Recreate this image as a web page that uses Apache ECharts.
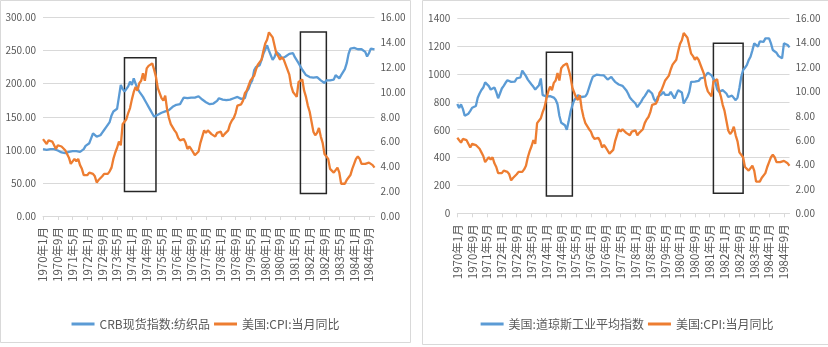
<!DOCTYPE html>
<html>
<head>
<meta charset="utf-8">
<script src="https://cdn.jsdelivr.net/npm/echarts@6/dist/echarts.min.js"></script>
<style>
  html, body { margin: 0; padding: 0; background: #ffffff; overflow: hidden; }
  #wrap { position: relative; width: 828px; height: 347px; }
  #left { position: absolute; left: 0; top: 0; width: 411px; height: 343px; }
  #right { position: absolute; left: 422px; top: 0; width: 410px; height: 345px; }
</style>
</head>
<body>
<div id="wrap">
  <div id="left"></div>
  <div id="right"></div>
</div>
<script>
// Monthly categories, 1970年1月 … 1984年12月
const months = [];
for (let y = 1970; y <= 1984; y++) {
  for (let m = 1; m <= 12; m++) months.push(y + '年' + m + '月');
}

// CRB spot index: textiles
const crbTextiles = [
  101, 101, 100, 101, 101, 100, 101, 100, 99, 97, 96, 95,
  95, 96, 97, 97, 98, 99, 98, 97, 97, 99, 101, 106,
  109, 110, 110, 125, 122, 120, 120, 122, 126, 130, 134, 137,
  142, 152, 158, 159, 162, 180, 198, 192, 188, 186, 196, 203,
  198, 208, 200, 193, 188, 186, 180, 175, 170, 165, 160, 155,
  150, 151, 153, 155, 156, 157, 158, 158, 160, 163, 165, 167,
  168, 169, 169, 172, 179, 180, 178, 178, 179, 178, 179, 180,
  181, 180, 176, 174, 172, 171, 169, 168, 170, 171, 174, 178,
  177, 176, 175, 175, 174, 176, 177, 178, 181, 180, 179, 177,
  178, 178, 188, 192, 200, 205, 220, 225, 226, 228, 236, 245,
  246, 258, 250, 243, 236, 240, 248, 245, 243, 238, 240, 241,
  243, 245, 248, 246, 240, 238, 231, 228, 221, 217, 213, 212,
  210, 211, 209, 208, 210, 209, 205, 203, 201, 205, 206, 205,
  205, 206, 213, 210, 208, 213, 216, 222, 231, 245, 253, 254,
  254, 252, 252, 253, 252, 250, 248, 241, 246, 253, 252, 252
];

// Dow Jones Industrial Average
const dowJones = [
  785, 756, 782, 750, 700, 692, 715, 735, 758, 762, 770, 830,
  860, 885, 903, 940, 930, 913, 888, 884, 903, 870, 826, 860,
  896, 915, 937, 955, 961, 944, 930, 945, 968, 956, 975, 1025,
  1033, 985, 960, 949, 925, 908, 889, 900, 920, 968, 848, 840,
  840, 850, 841, 838, 831, 815, 783, 700, 650, 660, 632, 600,
  660, 728, 775, 812, 830, 848, 850, 835, 824, 840, 860, 870,
  944, 980, 992, 995, 990, 992, 995, 990, 999, 960, 968, 980,
  960, 944, 935, 925, 920, 915, 900, 884, 860, 831, 815, 805,
  788, 762, 759, 800, 824, 841, 850, 884, 870, 860, 820, 800,
  836, 842, 855, 872, 850, 836, 850, 872, 875, 824, 830, 884,
  880, 868, 788, 800, 835, 872, 944, 940, 945, 956, 950, 968,
  965, 975, 992, 1009, 995, 990, 980, 944, 890, 872, 870, 884,
  875, 860, 835, 824, 845, 835, 812, 831, 900, 980, 1028, 1045,
  1064, 1100, 1124, 1170, 1220, 1210, 1196, 1235, 1244, 1230, 1256, 1260,
  1256, 1220, 1172, 1160, 1153, 1130, 1124, 1112, 1220, 1210, 1208, 1191
];

// US CPI, year-on-year (%)
const usCpi = [
  6.2, 6.1, 5.8, 6.1, 6.1, 6.0, 5.9, 5.4, 5.7, 5.7, 5.6, 5.6,
  5.3, 5.0, 4.7, 4.2, 4.4, 4.6, 4.4, 4.6, 4.1, 3.8, 3.3, 3.3,
  3.3, 3.5, 3.4, 3.4, 3.2, 2.7, 2.9, 2.9, 3.2, 3.4, 3.5, 3.4,
  3.6, 3.9, 4.6, 5.1, 5.5, 6.0, 5.7, 7.4, 7.4, 7.8, 8.3, 8.7,
  9.4, 10.0, 10.4, 10.1, 10.7, 10.9, 11.5, 10.9, 11.9, 12.1, 12.2, 12.3,
  11.8, 11.2, 10.3, 10.2, 9.5, 9.3, 9.7, 8.6, 7.9, 7.4, 7.4, 6.9,
  6.7, 6.3, 6.1, 6.0, 6.2, 5.9, 5.4, 5.6, 5.4, 5.4, 4.9, 4.9,
  5.2, 5.9, 6.4, 6.9, 6.7, 6.9, 6.8, 6.6, 6.6, 6.4, 6.7, 6.7,
  6.8, 6.4, 6.6, 6.5, 6.9, 7.4, 7.7, 7.9, 8.3, 8.9, 8.9, 9.0,
  9.3, 9.9, 10.1, 10.5, 10.9, 10.9, 11.3, 11.8, 12.2, 12.1, 12.6, 13.3,
  13.9, 14.2, 14.8, 14.7, 14.4, 14.4, 13.1, 12.9, 12.6, 12.8, 12.6, 12.5,
  11.8, 11.4, 10.5, 10.0, 9.8, 9.6, 10.8, 10.8, 11.0, 10.1, 9.6, 8.9,
  8.4, 7.6, 6.8, 6.5, 6.7, 7.1, 6.4, 5.9, 5.0, 5.1, 4.6, 3.8,
  3.7, 3.5, 3.6, 3.9, 3.5, 2.6, 2.5, 2.6, 2.9, 2.9, 3.3, 3.8,
  4.2, 4.6, 4.8, 4.6, 4.2, 4.2, 4.2, 4.3, 4.3, 4.3, 4.1, 3.9
];

// Highlighted periods (category range and left-axis value range)
const crbBoxes = [
  { from: '1973年9月', to: '1975年2月', high: 239, low: 37 },
  { from: '1981年8月', to: '1982年10月', high: 278, low: 34 }
];
const dowBoxes = [
  { from: '1974年1月', to: '1975年3月', high: 1156, low: 124 },
  { from: '1981年7月', to: '1982年11月', high: 1220, low: 144 }
];

const NAME_CPI = '美国:CPI:当月同比';
const FONT = '"Noto Sans CJK SC", "Noto Sans", sans-serif';
const TXT = '#595959';
const GRID = '#d9d9d9';

function buildOption(p) {
  return {
    animation: false,
    backgroundColor: '#ffffff',
    textStyle: { fontFamily: FONT },
    graphic: [{
      type: 'rect', silent: true, z: -1,
      shape: { x: 0.5, y: 0.5, width: p.w - 1, height: p.h - 1 },
      style: { fill: 'none', stroke: '#d9d9d9', lineWidth: 1 }
    }],
    grid: { left: p.left, right: p.right, top: p.top, height: p.height },
    legend: {
      data: [p.name, NAME_CPI],
      left: 'center', top: 313,
      icon: 'rect', itemWidth: 23, itemHeight: 3, itemGap: 4,
      textStyle: { color: TXT, fontSize: 12, fontFamily: FONT }
    },
    xAxis: {
      type: 'category', data: months, boundaryGap: false,
      axisLine: { lineStyle: { color: GRID, width: 1 } },
      axisTick: { show: true, interval: 7, length: 4, lineStyle: { color: GRID } },
      axisLabel: { interval: 7, rotate: 90, margin: 11, color: TXT, fontSize: 11.5, fontFamily: FONT },
      splitLine: { show: false }
    },
    yAxis: [{
      type: 'value', min: 0, max: p.max, interval: p.step,
      axisLine: { show: false }, axisTick: { show: false },
      axisLabel: { color: TXT, fontSize: 10, margin: 7, fontFamily: FONT, formatter: p.fmt },
      splitLine: { lineStyle: { color: GRID, width: 1 } }
    }, {
      type: 'value', min: 0, max: 16, interval: 2, position: 'right',
      axisLine: { show: false }, axisTick: { show: false },
      axisLabel: { color: TXT, fontSize: 10, margin: 6, fontFamily: FONT, formatter: v => v.toFixed(2) },
      splitLine: { show: false }
    }],
    series: [{
      name: p.name, type: 'line', data: p.data, yAxisIndex: 0,
      showSymbol: false, symbol: 'none',
      lineStyle: { color: '#5b9bd5', width: 2.3 },
      itemStyle: { color: '#5b9bd5' },
      markArea: {
        silent: true,
        label: { show: false },
        itemStyle: { color: 'rgba(0,0,0,0)', borderColor: '#262626', borderWidth: 1.5 },
        data: p.boxes.map(b => [{ xAxis: b.from, yAxis: b.high }, { xAxis: b.to, yAxis: b.low }])
      }
    }, {
      name: NAME_CPI, type: 'line', data: usCpi, yAxisIndex: 1,
      showSymbol: false, symbol: 'none',
      lineStyle: { color: '#ed7d31', width: 2.3 },
      itemStyle: { color: '#ed7d31' }
    }]
  };
}

const leftChart = echarts.init(document.getElementById('left'), null, { renderer: 'canvas' });
leftChart.setOption(buildOption({
  w: 411, h: 343, left: 43, right: 36.5, top: 17.5, height: 198.5,
  name: 'CRB现货指数:纺织品', data: crbTextiles, max: 300, step: 50,
  fmt: v => v.toFixed(2), boxes: crbBoxes
}));

const rightChart = echarts.init(document.getElementById('right'), null, { renderer: 'canvas' });
rightChart.setOption(buildOption({
  w: 410, h: 345, left: 35.3, right: 42.5, top: 18.3, height: 195,
  name: '美国:道琼斯工业平均指数', data: dowJones, max: 1400, step: 200,
  fmt: v => String(v), boxes: dowBoxes
}));
</script>
</body>
</html>
